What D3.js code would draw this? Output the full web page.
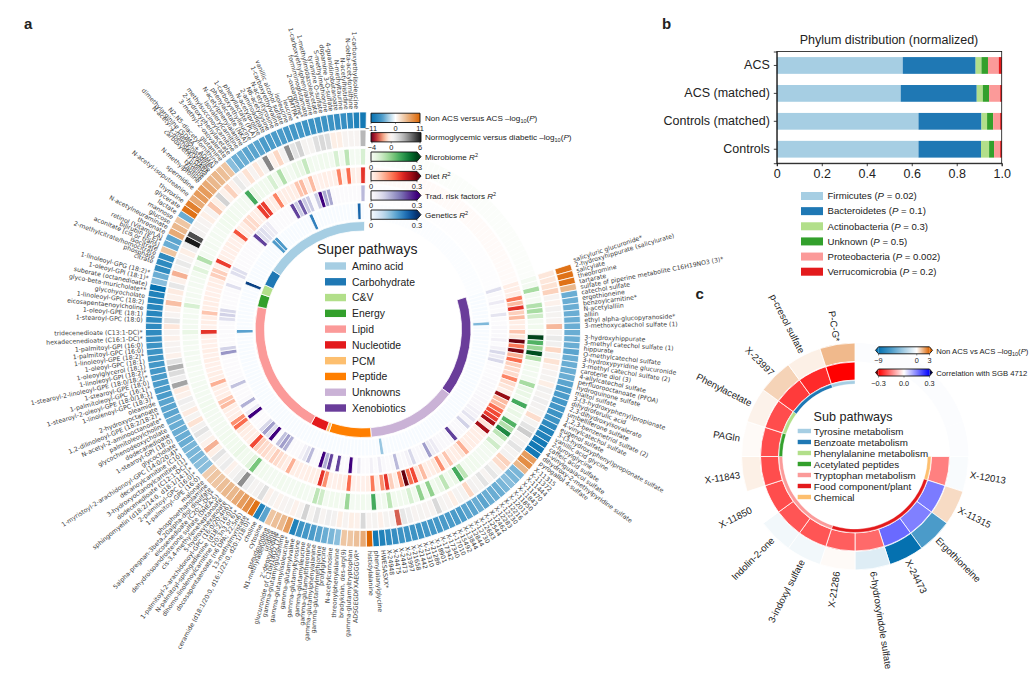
<!DOCTYPE html>
<html><head><meta charset="utf-8">
<script src="https://cdn.jsdelivr.net/npm/d3@7"></script>
<style>
html,body{margin:0;padding:0;background:#fff}
svg{display:block}
text{font-family:"Liberation Sans",Arial,sans-serif;fill:#222}
.met{font-family:"DejaVu Sans",sans-serif;font-size:6.2px;fill:#3c3c3c}
</style></head><body>
<svg id="c" width="1031" height="689"></svg>
<script>
// ---------- Panel a data (one value per metabolite, clockwise from the xenobiotics) ----------
const nonAcs = [
10,10,10,5,-5,-5,-5,-5,-5,-5,
-5,-5,-5,-5.5,-5,-5,-5,-5,-5.5,-6,
-6,-6.5,-6.5,-7,-7,-8,-9,-9,-10,-10,
-10,7,8,5,-4.5,-4.5,-4,-4.5,-5,-5,
-5,-5.5,-5,-5.5,-5.5,-6,-6,-6,-6,-6.5,
-6.5,-6.5,-7,-7,-7,-7,-7.5,-8,-9,-10,
11,6,4.5,4,4,-4,-4.5,-5,-5.5,-6,
-6.5,-7,-9,7,5,4.5,4,-5.5,-9,10,
8,7,6,5,5,4.5,4,4,3.5,-4,
-4,-4.5,-4.5,-4.5,-5,-5,-5,-5,-5,-5.5,
-5.5,-5.5,-6,-6,-6,-6,-6.5,-6.5,-7,-7,
-7,-7.5,-8,-8,-8,-8.5,-8.5,-9,-9,-11,
-4,-5,-8,-8,-8,4,-5,-5.5,6,5,
4,-5,10,9,6,7,7,6,5,5,
4.5,4,-4,-5,-5,-5.5,-5.5,-5.5,-6,-6,
-6,-6,-6.5,-6.5,-6.5,-7,-7,-7,-7,-7,
-7.5,-7.5,-8,-9,-10];
const normoDiab = [
-0.5,-0.5,-0.6,-0.9,0.2,-0.2,0.4,0.3,0.2,-1.3,
0.3,0.8,0.5,-0.8,0.3,-0.6,-0.2,0.2,0.3,-0.3,
0.5,0.3,0.6,0.4,0.3,-0.7,0.3,1,1.8,0.3,
0.4,1,0.3,0.4,-0.9,-0.7,0.3,0.9,0.2,1,
0.3,0.4,-0.8,0.3,0.3,-0.3,0.2,0.3,1.4,0.2,
0.2,0.3,0.2,0.6,0.9,-2.4,0.2,0.3,-0.2,0.3,
0.2,1.4,-0.2,-0.3,0.2,-0.3,0.4,0.6,0.2,1.0,
0.3,1.6,0.2,-0.2,0.3,0.2,-0.1,0.3,-0.2,1.2,
0.4,0.3,0.7,3.4,0.8,0.3,-0.2,0.7,0.3,1,
-0.3,-1.4,-0.2,0.3,1,0.4,-0.6,0.3,-0.4,0.3,
0.6,-0.2,-0.4,2.9,0.6,1.3,2.6,1.1,-0.2,0.2,
0.2,-0.2,0.2,-0.5,1,0.2,-0.2,-1.2,-0.2,-0.4,
0.9,-0.2,-1.4,0.3,0.8,0.2,-0.3,0.6,6,4.8,
0.4,0.3,0.2,-0.3,0.2,-1.1,-0.3,1.6,-0.2,-0.9,
-0.2,0.8,0.2,-0.6,0.2,-0.5,0.3,3.6,-0.2,-0.8,
0.3,3.4,1,1.6,0.3,0.3,1.2,1.4,1.2,-0.3,
-0.3,0.2,0.2,0.2,2.4];
const microbiomeR2 = [ // R² x 100
2,2,11,2,1,10,11,7,2,3,
2,30,18,12,29,10,3,3,2,2,
11,4,4,3,19,3,4,3,18,10,
23,9,3,7,3,2,2,2,3,3,
2,9,19,4,3,9,4,3,13,3,
13,3,6,3,3,3,9,3,2,19,
2,3,2,2,12,2,3,3,2,7,
9,2,2,3,2,2,2,3,2,2,
2,3,3,15,5,3,3,4,3,3,
3,3,2,2,2,2,2,3,3,2,
2,2,2,1,1,1,2,1,2,1,
2,1,4,2,2,2,1,6,2,2,
1,2,2,3,5,2,10,2,1,2,
1,2,1,2,3,3,3,2,2,2,
2,19,4,3,3,3,6,3,10,3,
2,4,4,8,3,2,3,3,2,6,
2,9,2,2,6];
const dietR2 = [
3,3,3,14,8,20,6,8,3,3,
7,4,30,14,29,9,15,6,5,5,
13,5,4,2,27,8,8,15,18,19,
26,4,26,3,3,3,3,3,9,4,
3,3,7,3,12,4,3,3,8,4,
18,15,30,12,3,6,20,12,3,14,
3,2,2,2,15,3,3,2,2,12,
20,3,3,3,2,3,3,9,3,4,
5,6,4,5,5,6,18,3,3,3,
4,15,12,3,2,3,8,7,3,2,
3,9,3,3,2,2,3,2,3,2,
2,2,20,2,3,3,7,3,3,3,
2,2,3,3,6,6,2,19,3,2,
2,3,2,3,17,3,3,5,5,3,
3,19,19,3,3,13,3,3,3,3,
7,8,3,8,2,2,3,2,3,13,
2,15,3,2,20];
const tradR2 = [
7,1,1,5,1,1,6,1,1,2,
2,2,4,1,4,8,5,8,1,1,
1,1,2,2,2,2,2,3,3,3,
4,4,6,3,9,2,2,3,24,3,
2,2,3,5,5,15,3,2,2,8,
4,2,2,12,2,1,2,5,1,4,
1,1,5,1,30,1,1,24,1,24,
13,30,1,1,12,6,4,1,1,1,
13,15,11,1,30,7,15,8,1,1,
1,30,5,1,13,2,1,1,1,11,
2,1,1,1,1,1,1,16,9,1,
1,1,1,1,1,7,9,8,1,1,
1,1,1,7,1,1,7,7,1,1,
1,1,1,1,1,1,24,7,7,5,
5,1,1,1,1,1,1,24,10,22,
10,10,1,10,30,14,14,1,1,1,
1,1,1,1,12];
const geneticsR2 = [
0,0,0,0,0,0,0,0,14,0,
0,0,0,0,0,0,0,0,0,0,
0,0,0,0,0,0,0,0,0,0,
0,0,0,0,0,0,0,0,0,0,
0,0,0,0,0,0,0,0,0,0,
0,0,0,0,0,0,12,0,0,0,
0,0,0,0,0,0,0,0,0,0,
0,0,0,0,0,0,0,0,0,0,
0,0,0,0,0,0,0,0,0,0,
0,0,0,0,0,0,0,0,0,0,
0,0,0,0,0,0,0,0,0,0,
0,0,17,0,0,0,0,0,0,0,
0,0,0,0,0,28,0,0,0,0,
0,0,0,0,0,0,0,0,18,18,
0,0,0,0,0,0,0,0,0,0,
21,0,0,0,0,0,0,0,0,0,
0,0,0,24,0];
// Slots left empty in the open sector of the circle
const emptySlots = 41;
// Super pathways, clockwise, and how many metabolites each holds
const superNames = ["Xenobiotics","Unknowns","Peptide","PCM","Nucleotide","Lipid","Energy","C&V","Carbohydrate","Amino acid"];
const superCounts = [31,28,13,1,5,42,4,3,5,33];
const superColors = ["#6a3d9a","#cab2d6","#ff7f00","#fdbf6f","#e31a1c","#fb9a99","#33a02c","#b2df8a","#1f78b4","#a6cee3"];
const superLegend = ["Amino acid","Carbohydrate","C&V","Energy","Lipid","Nucleotide","PCM","Peptide","Unknowns","Xenobiotics"];

const metaboliteLabels = [
"salicyluric glucuronide*","2-hydroxyhippurate (salicylurate)","salicylate","theobromine","tartarate",
"sulfate of piperine metabolite C16H19NO3 (3)*","catechol sulfate","ergothioneine","benzoylcarnitine*","N-acetylalliin",
"alliin","ethyl alpha-glucopyranoside*","3-methoxycatechol sulfate (1)","3-hydroxyhippurate","3-methyl catechol sulfate (1)",
"hippurate","O-methylcatechol sulfate","3-hydroxypyridine glucuronide","3-methyl catechol sulfate (2)","carotene diol (3)",
"4-allylcatechol sulfate","perfluorooctanoate (PFOA)","hydroquinone sulfate","maltol sulfate","3-(3-hydroxyphenyl)propionate",
"dihydroferulic acid","2,3-dihydroxyisovalerate","umbelliferone sulfate","1,2,3-benzenetriol sulfate (2)","4-vinylcatechol sulfate",
"eugenol sulfate","3-(3-hydroxyphenyl)propionate sulfate","vanillic acid glycine","2-furoylglycine","caffeic acid sulfate",
"4-vinylguaiacol sulfate","dihydroxy-2-methylpyridine sulfate","pyrogallol 4-sulfate",
"X-11315","X-11372","X-11444","X-11470","X-11843","X-11850","X-12013","X-12216","X-12230","X-12283","X-12462","X-12544","X-12683","X-12730","X-12844",
"X-13844","X-15492","X-17010","X-17340","X-17342","X-18901","X-21286","X-21310","X-21442","X-21658","X-23997","X-24473","X-24475","X-24948",
"HWESASXX*","phenylalanylglycine","histidylalanine","ADSGEGDFXAEGGGVR*","gamma-glutamyltryptophan","bradykinin, des-arg(9)",
"threonylphenylalanine","N-acetylcarnosine","prolylglycine","gamma-glutamylmethionine","gamma-glutamylphenylalanine",
"gamma-glutamylthreonine","gamma-glutamylleucine","gamma-glutamyltyrosine","gamma-glutamylvaline","gamma-glutamylisoleucine*",
"gamma-glutamylglutamine","glucuronide of C10H18O2 (7)*","2'-deoxyuridine","uridine","N1-methyladenosine","pseudouridine",
"cytosine","choline","ceramide (d18:1/20:0, d16:1/22:0, d20:1/18:0)*","13-methylmyristate","docosapentaenoate (n6 DPA; 22:5n6)",
"dihomo-linolenoylcarnitine (20:3n3 or 6)*","N-palmitoyl-sphingadienine (d18:2/16:0)*","1-palmitoyl-2-arachidonoyl-GPC (16:0/20:4n6)",
"5-hydroxyhexanoate","cis-3,4-methyleneheptanoate","dehydroisoandrosterone sulfate (DHEA-S)","eicosenedioate (C20:1-DC)*",
"5alpha-pregnan-3beta,20alpha-diol disulfate","phosphoethanolamine","malonate","1-palmitoyl-GPE (16:0)","2-palmitoyl-GPC (16:0)*",
"sphingomyelin (d18:2/14:0, d18:1/14:1)*","dodecenedioate (C12:1-DC)*","3-hydroxyoctanoylcarnitine (1)","decanoylcarnitine (C10)",
"1-myristoyl-2-arachidonoyl-GPC (14:0/20:4)*","glycocholate","1-stearoyl-GPI (18:0)","dodecanedioate","glycochenodeoxycholate",
"palmitoleoylcholine","N-acetyl-2-aminooctanoate*","1,2-dilinoleoyl-GPE (18:2/18:2)*","2-hydroxyoctanoate","oleamide",
"1-linolenoyl-GPC (18:3)*","1-stearoyl-2-oleoyl-GPE (18:0/18:1)","1-palmitoleoyl-GPC (16:1)*","1-stearoyl-GPE (18:0)",
"1-stearoyl-2-linoleoyl-GPE (18:0/18:2)*","1-linoleoyl-GPI (18:2)*","1-oleoylglycerol (18:1)","1-oleoyl-GPC (18:1)","1-linoleoyl-GPE (18:2)*",
"1-palmitoyl-GPC (16:0)","1-palmitoyl-GPI (16:0)","hexadecenedioate (C16:1-DC)*","tridecenedioate (C13:1-DC)*",
"1-stearoyl-GPC (18:0)","1-oleoyl-GPE (18:1)","eicosapentaenoylcholine","1-linoleoyl-GPC (18:2)","glycohyocholate","glyco-beta-muricholate**",
"suberate (octanedioate)","1-oleoyl-GPI (18:1)*","1-linoleoyl-GPG (18:2)*","citrate","phosphate","2-methylcitrate/homocitrate","isocitrate",
"aconitate [cis or trans]","bilirubin (E,E)*","retinol (Vitamin A)","threonate","N-acetylneuraminate","glucose","mannose","lactate","glycerate",
"thyroxine","N-acetyl-isoputreanine","spermidine","N-methylproline","taurine","tyrosine","proline","carboxyethyl-GABA","3-methoxytyrosine",
"N-acetyl-1-methylhistidine*","dimethylarginine (SDMA + ADMA)","N2,N5-diacetylornithine","glutamine","3-methyl-2-oxovalerate",
"2-hydroxyphenylacetate","methylsuccinoylcarnitine","isovalerylcarnitine","N-acetylphenylalanine","phenylacetate (NKA)","1-carboxyethylleucine",
"phenyllactate (PLA)","N-acetylproline","2-aminoadipate","N6-acetyllysine","N-acetyltyrosine","1-carboxyethylvaline","vanillic alcohol sulfate",
"isoleucine","leucine","DMTPA*","2-oxoarginine*","formiminoglutamate","1-carboxyethylphenylalanine","1-methylimidazoleacetate",
"tyramine O-sulfate","S-methylmethionine","dopamine 3-O-sulfate","4-guanidinobutanoate","N-methyltaurine","N-acetylhistidine",
"N-delta-acetylornithine","1-carboxyethylisoleucine"];
// Where labels sit round the circle (they do not follow the cells one to one in the picture)
const labelAnchorNames = ["salicyluric glucuronide*","3-methoxycatechol sulfate (1)","3-hydroxyhippurate","pyrogallol 4-sulfate","X-11315","HWESASXX*","histidylalanine","ADSGEGDFXAEGGGVR*","prolylglycine","gamma-glutamylmethionine","gamma-glutamylglutamine","pseudouridine","ceramide (d18:1/20:0, d16:1/22:0, d20:1/18:0)*","malonate","1-palmitoyl-GPE (16:0)","oleamide","1-palmitoyl-GPI (16:0)","tridecenedioate (C13:1-DC)*","1-stearoyl-GPC (18:0)","1-linoleoyl-GPG (18:2)*","citrate","retinol (Vitamin A)","mannose","thyroxine","N-methylproline","dimethylarginine (SDMA + ADMA)","1-carboxyethylisoleucine"];
const labelAnchorDeg = [71.7,89,92,127,129,174.8,178.2,181.6,190.3,191.5,201.5,206,211,226.5,228,250.4,266,269.3,272.5,285,288,294.7,300.5,305.5,312,317.5,358.3];

// ---------- Panel b data ----------
const phylumGroups = ["ACS","ACS (matched)","Controls (matched)","Controls"];
const firmicutes = [.56,.551,.63,.63];
const bacteroidetes = [.324,.338,.28,.278];
const actinobacteria = [.026,.027,.025,.036];
const unknownPhylum = [.029,.028,.027,.022];
const proteobacteria = [.048,.049,.031,.027];
const verrucomicrobia = [.013,.007,.007,.007];
const phylumNames = ["Firmicutes","Bacteroidetes","Actinobacteria","Unknown","Proteobacteria","Verrucomicrobia"];
const phylumP = ["0.02","0.1","0.3","0.5","0.002","0.2"];
const phylumColors = ["#a6cee3","#1f78b4","#b2df8a","#33a02c","#fb9a99","#e31a1c"];

// ---------- Panel c data ----------
const subLabels = ["X-12013","X-11315","Ergothioneine","X-24473","6-hydroxyindole sulfate","X-21286","3-indoxyl sulfate","Indolin-2-one","X-11850","X-11843","PAGln","Phenylacetate","X-23997","p-cresol sulfate","P-C-G*"];
const subNonAcs = [-0.25,0.7,-6,-9,-1.1,0.1,-0.45,-0.45,0,0.3,0.1,0.25,0.85,0.3,1.35];
const subCorr = [-.15,.155,.15,.175,-.175,-.19,-.2,-.2,-.21,-.21,-.21,-.21,-.23,-.25,-.3];
const subNames = ["Chemical","Food component/plant","Tryptophan metabolism","Acetylated peptides","Phenylalanine metabolism","Benzoate metabolism","Tyrosine metabolism"];
const subCounts = [1,5,4,1,1,2,1];
const subColors = ["#fdbf6f","#e31a1c","#fb9a99","#33a02c","#b2df8a","#1f78b4","#a6cee3"];
const subLegend = ["Tyrosine metabolism","Benzoate metabolism","Phenylalanine metabolism","Acetylated peptides","Tryptophan metabolism","Food component/plant","Chemical"];
const subEmptySlots = 5;

// ---------- Drawing ----------
const svg = d3.select("#c");
const rad = d => d*Math.PI/180;
const blueOrange = d3.scaleLinear().domain([-11,-6,-3,0,5,11]).range(["#0571b0","#4b9bc9","#a9d0e6","#ffffff","#eab88c","#dd6400"]).clamp(true);
const rdGy = d3.scaleLinear().domain([-4,0,6]).range([0,.5,1]).clamp(true);
const normoColor = v => d3.interpolateRdGy(rdGy(v));
const seqT = d3.scaleLinear().domain([0,3,6,30]).range([0,.04,.18,1]);
const seq = interp => (v => interp(seqT(v)));
const rings = [
 {vals:nonAcs,r0:201,r1:217.5,color:blueOrange},
 {vals:normoDiab,r0:183,r1:199.5,color:normoColor},
 {vals:microbiomeR2,r0:164.5,r1:181,color:seq(d3.interpolateGreens),ghost:true},
 {vals:dietR2,r0:146,r1:162.5,color:seq(d3.interpolateReds),ghost:true},
 {vals:tradR2,r0:128,r1:144.5,color:seq(d3.interpolatePurples),ghost:true},
 {vals:geneticsR2,r0:110,r1:126.5,color:seq(d3.interpolateBlues),ghost:true}
];
const A = svg.append("g").attr("transform","translate(363,329.5)");
const slots = emptySlots + nonAcs.length;
const slotScale = d3.scaleLinear().domain([0,slots]).range([0,2*Math.PI]);
const arc = d3.arc();
rings.forEach(R=>{
  const g = A.append("g");
  if(R.ghost){
    g.selectAll("path.e").data(d3.range(emptySlots)).join("path").attr("class","e")
     .attr("d",i=>arc({innerRadius:R.r0,outerRadius:R.r1,startAngle:slotScale(i+.5),endAngle:slotScale(i+1.5)}))
     .attr("fill",R.color(0)).attr("opacity",.45).attr("stroke","#fff").attr("stroke-width",.7);
  }
  g.selectAll("path.c").data(R.vals).join("path").attr("class","c")
   .attr("d",(v,i)=>arc({innerRadius:R.r0,outerRadius:R.r1,startAngle:slotScale(i+emptySlots+.5),endAngle:slotScale(i+emptySlots+1.5)}))
   .attr("fill",v=>R.color(v)).attr("stroke","#fff").attr("stroke-width",.8);
});
// super pathway band
let acc=0;
superCounts.forEach((n,k)=>{
  A.append("path").attr("d",arc({innerRadius:98.5,outerRadius:108,startAngle:slotScale(acc+emptySlots+.5),endAngle:slotScale(acc+n+emptySlots+.5)}))
   .attr("fill",superColors[k]).attr("stroke","#fff").attr("stroke-width",.8);
  acc+=n;
});
// metabolite labels
const labIdx = labelAnchorNames.map(n=>metaboliteLabels.indexOf(n));
const labAngle = d3.scaleLinear().domain(labIdx).range(labelAnchorDeg);
const rotAngle = d3.scaleLinear().domain([0,181,196,202,205,211,214,360]).range([0,181,185,193,202,208.5,214,360]);
A.selectAll("text.met").data(metaboliteLabels).join("text").attr("class","met")
 .each(function(t,i){
   const th = labAngle(i), right = th<180, r = right?221.5:220.5, rot = rotAngle(th);
   d3.select(this).attr("text-anchor",right?"start":"end").attr("dy","0.35em")
    .attr("transform",`translate(${r*Math.sin(rad(th))},${-r*Math.cos(rad(th))}) rotate(${right?rot-90:rot-270})`)
    .text(t);
 });
// legend
svg.append("text").attr("x",317).attr("y",254).attr("font-size",14).text("Super pathways");
const legY = d3.scalePoint().domain(superLegend).range([266,408]);
superLegend.forEach(n=>{
  svg.append("rect").attr("x",325).attr("y",legY(n)-3.7).attr("width",21).attr("height",7.4).attr("fill",superColors[superNames.indexOf(n)]);
  svg.append("text").attr("x",352).attr("y",legY(n)+3.9).attr("font-size",10.4).text(n);
});
// colour bars
function colorbar(x,y,w,h,color,dom,ticks,tickFmt,o={}){
  const id="g"+Math.random().toString(36).slice(2);
  const grad=svg.append("defs").append("linearGradient").attr("id",id);
  const s=d3.scaleLinear().domain([dom[0],dom[dom.length-1]]);
  d3.range(0,1.0001,.05).forEach(t=>grad.append("stop").attr("offset",t).attr("stop-color",color(s.invert(t))));
  const x0=x, x1=x+w, m=h/2, aw=o.aw||4;
  let pts=`${x0},${y} ${x1},${y} ${o.right?`${x1+aw},${y+m} `:""}${x1},${y+h} ${x0},${y+h} ${o.left?`${x0-aw},${y+m}`:""}`;
  if(o.right) svg.append("polygon").attr("points",`${x1},${y} ${x1+aw},${y+m} ${x1},${y+h}`).attr("fill",o.rightColor||color(dom[dom.length-1]));
  if(o.left) svg.append("polygon").attr("points",`${x0},${y} ${x0-aw},${y+m} ${x0},${y+h}`).attr("fill",o.leftColor||color(dom[0]));
  svg.append("rect").attr("x",x0).attr("y",y).attr("width",w).attr("height",h).attr("fill",`url(#${id})`);
  svg.append("polygon").attr("points",pts).attr("fill","none").attr("stroke","#111").attr("stroke-width",.9);
  const tx=d3.scaleLinear().domain([dom[0],dom[dom.length-1]]).range([x0+(o.tp||0),x1-(o.tp||0)]);
  ticks.forEach(v=>{
    svg.append("line").attr("x1",tx(v)).attr("x2",tx(v)).attr("y1",y+h).attr("y2",y+h+1.6).attr("stroke","#222").attr("stroke-width",.5);
    svg.append("text").attr("x",tx(v)).attr("y",y+h+(o.ty||8.2)).attr("text-anchor","middle").attr("font-size",o.fs||7.4).text(tickFmt(v));
  });
}
function richLabel(x,y,fs,parts){
  const t=svg.append("text").attr("x",x).attr("y",y).attr("font-size",fs);
  parts.forEach(p=>{
    const s=t.append("tspan").text(p.t);
    if(p.i) s.attr("font-style","italic");
    if(p.dy) s.attr("dy",p.dy);
    if(p.fs) s.attr("font-size",p.fs);
  });
}
const minusFmt=v=>String(v).replace("-","\u2212");
const logParts=pre=>[{t:pre+" \u2013log"},{t:"10",dy:2,fs:5.5},{t:"(",dy:-2},{t:"P",i:1},{t:")"}];
const r2Parts=pre=>[{t:pre+" "},{t:"R",i:1},{t:"2",dy:-3,fs:5.5}];
colorbar(371,113.2,49,9.3,blueOrange,[-11,0,11],[-11,0,11],minusFmt);
richLabel(425,121,8.1,logParts("Non ACS versus ACS"));
colorbar(371,132.6,50,9.3,normoColor,[-4,0,6],[-4,0,6],minusFmt,{tp:1});
richLabel(425,140,8.1,logParts("Normoglycemic versus diabetic"));
[[152,"Microbiome",d3.interpolateGreens],[171.4,"Diet",d3.interpolateReds],[190.8,"Trad. risk factors",d3.interpolatePurples],[210,"Genetics",d3.interpolateBlues]].forEach(c=>{
  colorbar(371,c[0],46,9.3,d3.scaleSequential(c[2]).domain([0,30]),[0,30],[0,30],v=>v?"0.3":"0",{right:true,aw:4});
  richLabel(425,c[0]+8,8.1,r2Parts(c[1]));
});
// Panel b
const bx=d3.scaleLinear().domain([0,1]).range([776.8,1001.7]);
const by=d3.scaleBand().domain(phylumGroups).range([51.5,163.2]).paddingInner(.4).paddingOuter(.2);
const phyla=[firmicutes,bacteroidetes,actinobacteria,unknownPhylum,proteobacteria,verrucomicrobia];
phylumGroups.forEach((g,i)=>{
  let c=0;
  phyla.forEach((p,k)=>{
    svg.append("rect").attr("x",bx(c)).attr("width",bx(c+p[i])-bx(c)).attr("y",by(g)).attr("height",by.bandwidth()).attr("fill",phylumColors[k]);
    c+=p[i];
  });
});
const gx=svg.append("g").attr("transform","translate(0,163.2)").call(d3.axisBottom(bx).tickValues([0,.2,.4,.6,.8,1]).tickFormat(v=>v===0?"0":d3.format(".1f")(v)).tickSize(3).tickPadding(3));
const gy=svg.append("g").attr("transform","translate(776.8,0)").call(d3.axisLeft(by).tickSize(3).tickPadding(4));
[gx,gy].forEach(g=>{g.selectAll("text").attr("font-size",12.5).attr("font-family","Liberation Sans").attr("fill","#222");g.selectAll("line,path").attr("stroke","#111").attr("stroke-width",.8);});
svg.append("rect").attr("x",776.8).attr("y",51.5).attr("width",224.9).attr("height",111.7).attr("fill","none").attr("stroke","#111").attr("stroke-width",.8);
svg.append("text").attr("x",889).attr("y",43.5).attr("text-anchor","middle").attr("font-size",12.5).text("Phylum distribution (normalized)");
const legB=d3.scalePoint().domain(phylumNames).range([196,271.7]);
phylumNames.forEach((n,k)=>{
  svg.append("rect").attr("x",801).attr("y",legB(n)-4).attr("width",22).attr("height",8).attr("fill",phylumColors[k]);
  richLabel(827.5,legB(n)+3.3,9.6,[{t:n+" ("},{t:"P",i:1},{t:" = "+phylumP[k]+")"}]);
});
// Panel c
const C=svg.append("g").attr("transform","translate(855,456.5)");
const cSlots=subEmptySlots+subLabels.length;
const cScale=d3.scaleLinear().domain([0,cSlots]).range([0,2*Math.PI]);
const corrColor=d3.scaleLinear().domain([-.3,0,.3]).range(["#ff0000","#ffffff","#0000ff"]).clamp(true);
const nonAcsC=d3.scaleLinear().domain([-9,-6,0,3]).range(["#0571b0","#4b9bc9","#ffffff","#dd6400"]).clamp(true);
C.selectAll("path.g").data(d3.range(subEmptySlots)).join("path").attr("class","g")
 .attr("d",i=>arc({innerRadius:95,outerRadius:113.5,startAngle:cScale(i),endAngle:cScale(i+1)})).attr("fill","#fbfcfe");
C.selectAll("path.o").data(subNonAcs).join("path").attr("class","o")
 .attr("d",(v,i)=>arc({innerRadius:95,outerRadius:113.5,startAngle:cScale(i+subEmptySlots),endAngle:cScale(i+subEmptySlots+1)}))
 .attr("fill",v=>nonAcsC(v)).attr("stroke","#fff").attr("stroke-width",.8);
C.selectAll("path.i").data(subCorr).join("path").attr("class","i")
 .attr("d",(v,i)=>arc({innerRadius:76.5,outerRadius:94.5,startAngle:cScale(i+subEmptySlots),endAngle:cScale(i+subEmptySlots+1)}))
 .attr("fill",v=>corrColor(v)).attr("stroke","#fff").attr("stroke-width",.8);
let accC=0;
subCounts.forEach((n,k)=>{
  C.append("path").attr("d",arc({innerRadius:72.5,outerRadius:76,startAngle:cScale(accC+subEmptySlots),endAngle:cScale(accC+n+subEmptySlots)}))
   .attr("fill",subColors[k]).attr("stroke","#fff").attr("stroke-width",.4);
  accC+=n;
});
C.selectAll("text.sl").data(subLabels).join("text").attr("class","sl").attr("font-size",9.6).attr("dy","0.35em")
 .each(function(t,i){
   const th=(i+subEmptySlots+.5)*360/cSlots, right=th<180, r=116.5;
   d3.select(this).attr("text-anchor",right?"start":"end")
    .attr("transform",`translate(${r*Math.sin(rad(th))},${-r*Math.cos(rad(th))}) rotate(${right?th-90:th-270})`).text(t);
 });
svg.append("text").attr("x",813.5).attr("y",420.5).attr("font-size",12.6).text("Sub pathways");
const legC=d3.scalePoint().domain(subLegend).range([431,497]);
subLegend.forEach(n=>{
  svg.append("rect").attr("x",797.7).attr("y",legC(n)-2.2).attr("width",13.3).attr("height",4.4).attr("fill",subColors[subNames.indexOf(n)]);
  svg.append("text").attr("x",813.7).attr("y",legC(n)+3.7).attr("font-size",9.8).text(n);
});
colorbar(878.5,346.8,51,7,nonAcsC,[-9,0,3],[-9,0,3],minusFmt,{left:true,right:true,aw:3,ty:9.5,fs:7.3});
richLabel(936.3,353.5,7.7,logParts("Non ACS vs ACS"));
colorbar(878.5,369,51,7,corrColor,[-.3,0,.3],[-.3,0,.3],v=>minusFmt(d3.format(".1f")(v)),{left:true,right:true,aw:3,ty:9.5,fs:7.3,leftColor:"#800000",rightColor:"#00004d"});
svg.append("text").attr("x",936.3).attr("y",375.5).attr("font-size",7.7).text("Correlation with SGB 4712");
// panel letters
[["a",24,29],["b",662,29],["c",695.5,299]].forEach(l=>svg.append("text").attr("x",l[1]).attr("y",l[2]).attr("font-size",15).attr("font-weight","bold").attr("fill","#000").text(l[0]));
</script>
</body></html>
